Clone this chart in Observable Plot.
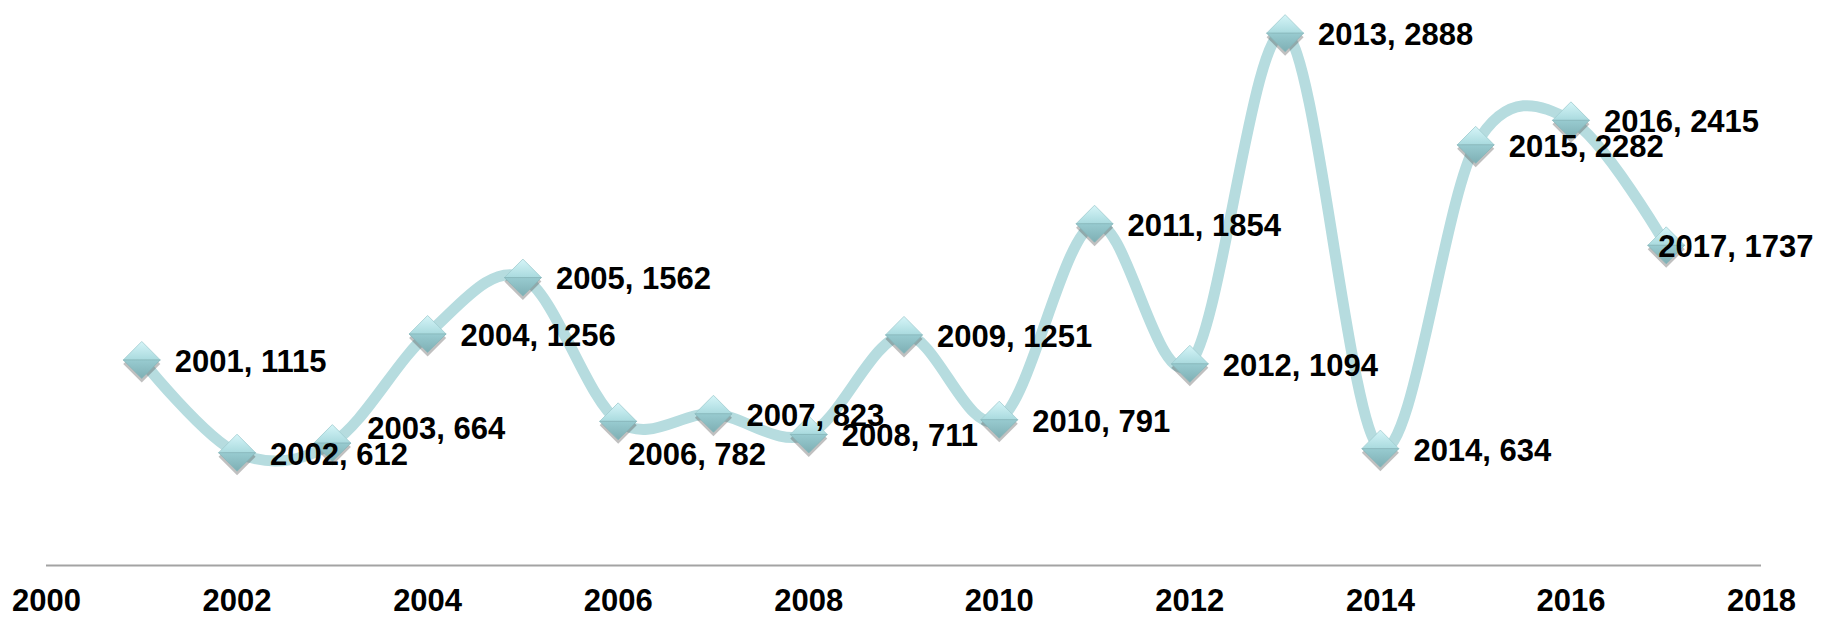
<!DOCTYPE html>
<html>
<head>
<meta charset="utf-8">
<script src="https://cdn.jsdelivr.net/npm/d3@7"></script>
<script src="https://cdn.jsdelivr.net/npm/@observablehq/plot@0.6"></script>
<style>
  html, body { margin: 0; padding: 0; background: #ffffff; }
  #chart { width: 1822px; height: 618px; overflow: hidden; }
</style>
</head>
<body>
<div id="chart"></div>
<script>
// ---- data ----
const years  = [2001, 2002, 2003, 2004, 2005, 2006, 2007, 2008, 2009, 2010, 2011, 2012, 2013, 2014, 2015, 2016, 2017];
const counts = [1115, 612, 664, 1256, 1562, 782, 823, 711, 1251, 791, 1854, 1094, 2888, 634, 2282, 2415, 1737];
const xTicks = [2000, 2002, 2004, 2006, 2008, 2010, 2012, 2014, 2016, 2018];

const data = years.map((year, i) => ({ year, count: counts[i], label: `${year}, ${counts[i]}` }));

// label placement (layout, not data)
const nudges = { 2003: [35, -14], 2006: [10, 34], 2017: [-8, 2] };
const defaultNudge = [33, 2];

// custom diamond halves
const topHalf = { draw(ctx, size) { const r = Math.sqrt(size / Math.PI); ctx.moveTo(-r, 0); ctx.lineTo(0, -r); ctx.lineTo(r, 0); ctx.closePath(); } };
const bottomHalf = { draw(ctx, size) { const r = Math.sqrt(size / Math.PI); ctx.moveTo(-r, 0); ctx.lineTo(0, r); ctx.lineTo(r, 0); ctx.closePath(); } };
const wholeDiamond = { draw(ctx, size) { const r = Math.sqrt(size / Math.PI); ctx.moveTo(-r, 0); ctx.lineTo(0, -r); ctx.lineTo(r, 0); ctx.lineTo(0, r); ctx.closePath(); } };

const R = 18.5;
const font = "'Liberation Sans', Arial, Helvetica, sans-serif";

const labelMarks = [];
const special = Object.keys(nudges).map(Number);
labelMarks.push(Plot.text(data.filter(d => !special.includes(d.year)), {
  x: "year", y: "count", text: "label", dx: defaultNudge[0], dy: defaultNudge[1],
  textAnchor: "start", fontSize: 31, fontWeight: "bold", fill: "#000"
}));
for (const yr of special) {
  labelMarks.push(Plot.text(data.filter(d => d.year === yr), {
    x: "year", y: "count", text: "label", dx: nudges[yr][0], dy: nudges[yr][1],
    textAnchor: "start", fontSize: 31, fontWeight: "bold", fill: "#000"
  }));
}

const svg = Plot.plot({
  width: 1822,
  height: 618,
  marginLeft: 46,
  marginRight: 61,
  marginTop: 12,
  marginBottom: 53,
  style: { fontFamily: font, fontSize: "31px", fontWeight: "bold", color: "#000", background: "#ffffff", overflow: "visible" },
  x: { domain: [2000, 2018], label: null },
  y: { domain: [0, 3000], axis: null },
  marks: [
    Plot.ruleY([0], { stroke: "#a3a3a3", strokeWidth: 2 }),
    Plot.axisX({ ticks: xTicks, tickFormat: d => String(d), tickSize: 0, tickPadding: 23, fontSize: 31, fontWeight: "bold", fill: "#000", label: null }),
    Plot.line(data, { x: "year", y: "count", curve: "cardinal", stroke: "#b6dcdf", strokeWidth: 11, strokeLinecap: "round", strokeLinejoin: "round" }),
    Plot.dot(data, { x: "year", y: "count", symbol: wholeDiamond, r: R, fill: "#4a4a4a", fillOpacity: 0.35, stroke: "none", dy: 4, ariaLabel: "shadow" }),
    Plot.dot(data, { x: "year", y: "count", symbol: topHalf, r: R, fill: "url(#gradTop)", stroke: "#9fcbcf", strokeWidth: 0.8 }),
    Plot.dot(data, { x: "year", y: "count", symbol: bottomHalf, r: R, fill: "url(#gradBottom)", stroke: "#86b6ba", strokeWidth: 0.8 }),
    ...labelMarks
  ]
});

const s = d3.select(svg);
const defs = s.insert("defs", ":first-child");
const gt = defs.append("linearGradient").attr("id", "gradTop").attr("x1", 0).attr("y1", 0).attr("x2", 0).attr("y2", 1);
gt.append("stop").attr("offset", "0%").attr("stop-color", "#d6f5f8");
gt.append("stop").attr("offset", "100%").attr("stop-color", "#a9dade");
const gb = defs.append("linearGradient").attr("id", "gradBottom").attr("x1", 0).attr("y1", 0).attr("x2", 0).attr("y2", 1);
gb.append("stop").attr("offset", "0%").attr("stop-color", "#98cbd0");
gb.append("stop").attr("offset", "100%").attr("stop-color", "#7eafb4");
const blur = defs.append("filter").attr("id", "blurShadow").attr("x", "-50%").attr("y", "-50%").attr("width", "200%").attr("height", "200%");
blur.append("feGaussianBlur").attr("stdDeviation", 2.5);
s.selectAll('g[aria-label="shadow"]').attr("filter", "url(#blurShadow)");

document.getElementById("chart").appendChild(svg);
</script>
</body>
</html>
